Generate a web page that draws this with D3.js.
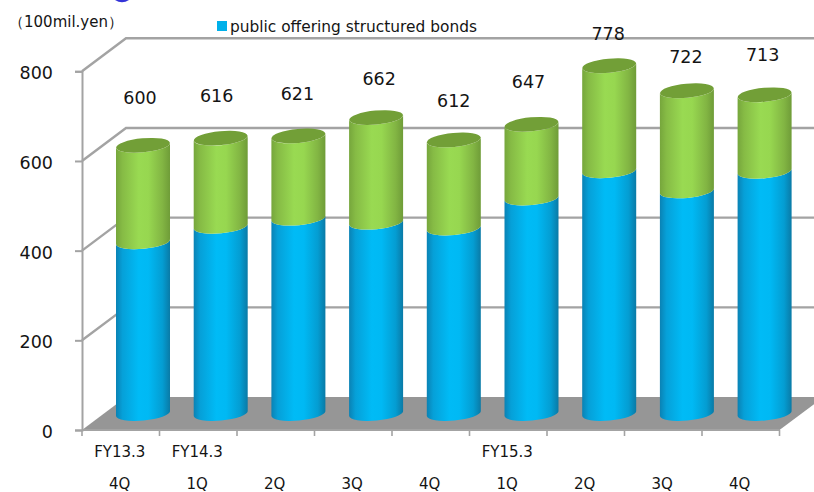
<!DOCTYPE html>
<html><head><meta charset="utf-8">
<script src="https://cdnjs.cloudflare.com/ajax/libs/d3/7.8.5/d3.min.js"></script>
<style>html,body{margin:0;padding:0;background:#fff;overflow:hidden}svg{display:block}text{font-family:"DejaVu Sans",Verdana,sans-serif;fill:#141414}</style>
</head><body><div id="c"></div>
<script>
const quarters=["4Q","1Q","2Q","3Q","4Q","1Q","2Q","3Q","4Q"];
const fiscal=["FY13.3","FY14.3","","","","FY15.3","","",""];
const blueValues=[384,419,437,428,415,482,543,498,542];
const totals=[600,616,621,662,612,647,778,722,713];
const yTicks=[0,200,400,600,800];
const legendLabel="public offering structured bonds";
const unitLabel="（100mil.yen）";
const labelLift=[47,42,42,39,39,42,32,34,40];
const labelShiftX=[-3,-4,-1,3,0,-3,-1,-1,-2];

const W=814,H=492,left=82,right=779.5,y0=430,y800=71.3,dx=44,dy=33,lift=16.5,rx=27,ry=7,tilt=5.3;
const svg=d3.select("#c").append("svg").attr("width",W).attr("height",H);
const x=d3.scaleBand().domain(d3.range(totals.length)).range([left,right]);
const xBar=d3.scaleBand().domain(d3.range(totals.length)).range([104.15,104.15+9*77.7]);
const y=d3.scaleLinear().domain([0,800]).range([y0,y800]);
const barY=v=>y0-lift-v*0.447;
const grey="#a3a3a3";

const defs=svg.append("defs");
function grad(id,stops){
  const g=defs.append("linearGradient").attr("id",id).attr("x1",0).attr("x2",1).attr("y1",0).attr("y2",0);
  stops.forEach(s=>g.append("stop").attr("offset",s[0]).attr("stop-color",s[1]));
}
grad("gBlue",[[0,"#0a82b4"],[.12,"#06a0d8"],[.42,"#00bbf6"],[.6,"#00b9f4"],[.86,"#049dd2"],[1,"#0a7aa6"]]);
grad("gGreen",[[0,"#76a63c"],[.12,"#86bb45"],[.42,"#99da52"],[.6,"#97d750"],[.86,"#82b543"],[1,"#6f9c38"]]);

// sliver of a cropped heading at the very top edge
svg.append("path").attr("d","M115,0Q122,4.5 129,0Z").attr("fill","#3434d8");

svg.append("g").selectAll("path").data(yTicks.slice(1)).join("path")
  .attr("d",d=>`M${left},${y(d)}L${left+dx},${y(d)-dy}L${W},${y(d)-dy}`)
  .attr("fill","none").attr("stroke",grey).attr("stroke-width",2.4);
svg.append("path").attr("d",`M${left},${y0}L${left+dx},${y0-dy}L${right+dx},${y0-dy}L${right},${y0}Z`).attr("fill","#969696");

const ya=svg.append("g").attr("transform",`translate(${left},0)`)
  .call(d3.axisLeft(y).tickValues(yTicks).tickSize(7).tickPadding(10));
ya.select(".domain").attr("stroke",grey).attr("stroke-width",2);
ya.selectAll(".tick line").attr("stroke",grey).attr("stroke-width",2);
ya.selectAll("text").style("font-size","17.5px").attr("dy","0.42em").attr("x",-29);

const xTicks=d3.range(totals.length+1);
const xp=i=>left+i*x.step();
svg.append("line").attr("x1",left).attr("x2",right).attr("y1",y0).attr("y2",y0).attr("stroke",grey).attr("stroke-width",2);
svg.append("g").selectAll("line").data(xTicks).join("line")
  .attr("x1",xp).attr("x2",xp).attr("y1",y0).attr("y2",y0+6).attr("stroke",grey).attr("stroke-width",1.6);

const cxOf=i=>xBar(i)+xBar.bandwidth()/2;
const ang=tilt*Math.PI/180, ex=rx, ey=rx*Math.tan(ang);
function body(cx,yt,yb){
  return `M${cx-ex},${yt+ey}L${cx-ex},${yb+ey}A${rx},${ry} ${-tilt} 0 0 ${cx+ex},${yb-ey}L${cx+ex},${yt-ey}A${rx},${ry} ${-tilt} 0 1 ${cx-ex},${yt+ey}Z`;
}
const bars=svg.append("g").selectAll("g").data(totals).join("g");
bars.append("path").attr("d",(d,i)=>body(cxOf(i),barY(blueValues[i]),barY(0))).attr("fill","url(#gBlue)");
bars.append("path").attr("d",(d,i)=>body(cxOf(i),barY(d),barY(blueValues[i]))).attr("fill","url(#gGreen)");
bars.append("ellipse").attr("rx",rx).attr("ry",ry)
  .attr("transform",(d,i)=>`translate(${cxOf(i)},${barY(d)}) rotate(${-tilt})`).attr("fill","#729f37");

svg.append("g").selectAll("text").data(totals).join("text")
  .attr("x",(d,i)=>cxOf(i)+labelShiftX[i]).attr("y",(d,i)=>barY(d)-labelLift[i]+6)
  .attr("text-anchor","middle").style("font-size","17.5px").text(d=>d);

svg.append("g").selectAll("text").data(fiscal).join("text")
  .attr("x",(d,i)=>x(i)+x.bandwidth()/2-1).attr("y",457).attr("text-anchor","middle").style("font-size","15px").text(d=>d);
svg.append("g").selectAll("text").data(quarters).join("text")
  .attr("x",(d,i)=>x(i)+x.bandwidth()/2-1).attr("y",489).attr("text-anchor","middle").style("font-size","15px").text(d=>d);

svg.append("rect").attr("x",217).attr("y",21).attr("width",10).attr("height",10).attr("fill","#00b0ea");
svg.append("text").attr("x",230).attr("y",32).style("font-size","15.4px").text(legendLabel);
svg.append("text").attr("x",9).attr("y",27).style("font-size","15px").text(unitLabel);
</script></body></html>
